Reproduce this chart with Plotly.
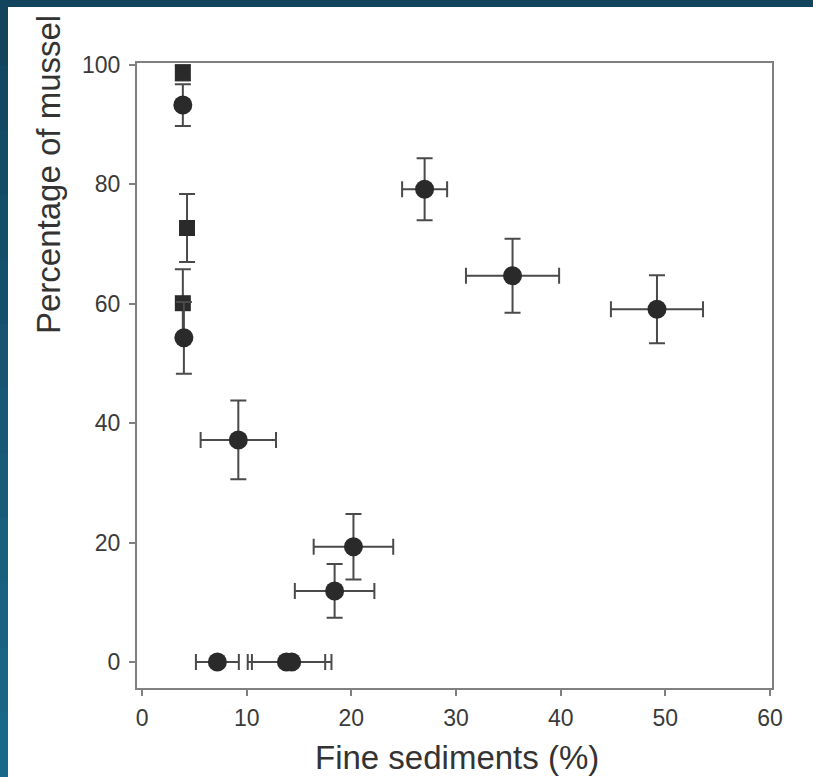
import plotly.graph_objects as go

# ---- data ----
circ_x = [3.9, 4.0, 9.2, 20.2, 18.4, 7.2, 13.8, 14.3, 27.0, 35.4, 49.2]
circ_y = [93.3, 54.3, 37.2, 19.3, 11.9, 0.0, 0.0, 0.0, 79.2, 64.7, 59.1]
circ_xerr = [0, 0, 3.6, 3.8, 3.8, 2.05, 3.7, 3.8, 2.15, 4.45, 4.4]
circ_yerr = [3.5, 6.0, 6.6, 5.5, 4.5, 0, 0, 0, 5.2, 6.2, 5.7]

sq_x = [3.9, 4.3, 3.9]
sq_y = [98.7, 72.7, 60.1]
sq_xerr = [0, 0, 0]
sq_yerr = [1.3, 5.7, 5.7]

x_ticks = [0, 10, 20, 30, 40, 50, 60]
y_ticks = [0, 20, 40, 60, 80, 100]
x_title = "Fine sediments (%)"
y_title = "Percentage of mussel"

# ---- layout geometry (pixels) ----
W, H = 813, 777
L, R, T, B = 137, 41, 63, 89
pw, ph = W - L - R, H - T - B

def px(x):
    return (x - L) / pw

def py(y):
    return (H - B - y) / ph

FONT = "Liberation Sans, Arial, sans-serif"
MK = "#2a2a2a"
EB = "#4a4a4a"
AX = "#808080"

fig = go.Figure()

fig.add_trace(go.Scatter(
    x=sq_x, y=sq_y, mode="markers",
    marker=dict(symbol="square", size=16, color=MK, line=dict(width=0)),
    error_x=dict(type="data", array=sq_xerr, color=EB, thickness=2, width=8),
    error_y=dict(type="data", array=sq_yerr, color=EB, thickness=2, width=8),
    showlegend=False,
))
fig.add_trace(go.Scatter(
    x=circ_x, y=circ_y, mode="markers",
    marker=dict(symbol="circle", size=19, color=MK, line=dict(width=0)),
    error_x=dict(type="data", array=circ_xerr, color=EB, thickness=2, width=8),
    error_y=dict(type="data", array=circ_yerr, color=EB, thickness=2, width=8),
    showlegend=False,
))

shapes = []
# blue frame: left strip (gradient approximated with overlapping bands) and top band
n = 12
top_c = (0x12, 0x44, 0x5e)
bot_c = (0x1a, 0x68, 0x88)
for i in range(n):
    f = i / (n - 1)
    c = tuple(int(round(top_c[k] + (bot_c[k] - top_c[k]) * f)) for k in range(3))
    y0 = (H * i) / n
    y1 = min(H, (H * (i + 1)) / n + 3)
    shapes.append(dict(type="rect", xref="paper", yref="paper",
                       x0=px(-2), x1=px(8), y0=py(y1), y1=py(y0),
                       fillcolor="rgb(%d,%d,%d)" % c, line=dict(width=0), layer="above"))
shapes.append(dict(type="rect", xref="paper", yref="paper",
                   x0=px(-2), x1=px(W + 2), y0=py(7), y1=py(-2),
                   fillcolor="#12445e", line=dict(width=0), layer="above"))

annotations = [
    dict(text=x_title, xref="paper", yref="paper", x=px(457), y=py(757),
         showarrow=False, xanchor="center", yanchor="middle",
         font=dict(family=FONT, size=33, color="#333333")),
    dict(text=y_title, xref="paper", yref="paper", x=px(48), y=py(174),
         showarrow=False, xanchor="center", yanchor="middle", textangle=-90,
         font=dict(family=FONT, size=33, color="#333333")),
]

fig.update_layout(
    width=W, height=H,
    margin=dict(l=L, r=R, t=T, b=B, pad=0),
    paper_bgcolor="white", plot_bgcolor="white",
    shapes=shapes, annotations=annotations,
    xaxis=dict(range=[-0.48, 60.19], tickvals=x_ticks, ticktext=[str(v) for v in x_ticks],
               showgrid=False, zeroline=False, showline=True, linecolor=AX, linewidth=2,
               mirror=True, ticks="outside", ticklen=6, tickwidth=2, tickcolor=AX,
               tickfont=dict(family=FONT, size=23, color="#3a3a3a"), ticklabelstandoff=2),
    yaxis=dict(range=[-4.36, 100.34], tickvals=y_ticks, ticktext=[str(v) for v in y_ticks],
               showgrid=False, zeroline=False, showline=True, linecolor=AX, linewidth=2,
               mirror=True, ticks="outside", ticklen=6, tickwidth=2, tickcolor=AX,
               tickfont=dict(family=FONT, size=23, color="#3a3a3a"), ticklabelstandoff=4),
)

fig.write_html("out.html")
